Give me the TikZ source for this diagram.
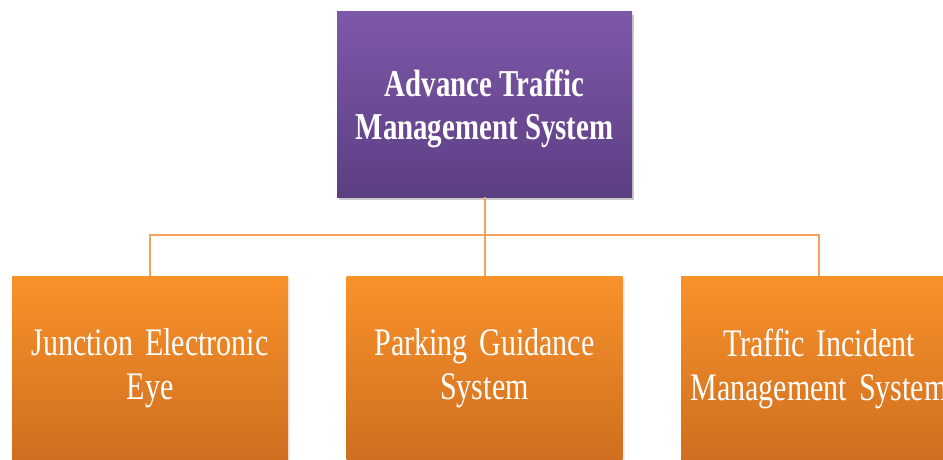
\documentclass[tikz,border=0pt]{standalone}
\usepackage{fontspec}
\setmainfont{Liberation Serif}
\newfontfamily\subfont[FakeStretch=0.77]{Liberation Serif}
\newfontfamily\headfont[FakeStretch=0.76]{Liberation Serif}
\newcommand\subtext{\subfont\fontsize{39}{44}\selectfont\spaceskip=0.3em plus 0pt\relax}
\newcommand\headtext{\headfont\bfseries\fontsize{38}{43}\selectfont}
\usetikzlibrary{shadows}

\definecolor{purpletop}{HTML}{7D58A8}
\definecolor{purplebot}{HTML}{5C3E83}
\definecolor{orangetop}{HTML}{F9922B}
\definecolor{orangebot}{HTML}{CF6E1F}
\definecolor{linkorange}{HTML}{F4A25E}

\tikzset{
  topbox/.style={minimum width=295pt, minimum height=185pt, inner sep=0pt,
    top color=purpletop, bottom color=purplebot, text=white, align=center,
    font=\headtext, text depth=0pt,
    drop shadow={shadow xshift=2pt, shadow yshift=-3pt, opacity=0.35, fill=black!60}},
  subbox/.style={minimum width=276pt, minimum height=185pt, inner sep=0pt,
    top color=orangetop, bottom color=orangebot, text=white, align=center,
    font=\subtext,
    drop shadow={shadow xshift=2pt, shadow yshift=-2pt, opacity=0.15, fill=black!50}},
  link/.style={linkorange, line width=2pt}
}

\begin{document}
\begin{tikzpicture}[x=1pt, y=1pt]
\useasboundingbox (0,0) rectangle (943,459);
\clip (0,0) rectangle (943,459);

\node[topbox] (atms) at (484.5,354.5) {Advance Traffic\\Management System};

\node[subbox] (jee) at (150,90.5) {Junction Electronic\\Eye};
\node[subbox] (pgs) at (484.5,90.5) {Parking Guidance\\System};
\node[subbox] (tims) at (819,90.5) {Traffic Incident\\Management System};

% branches
\foreach \n in {jee,pgs,tims}
  \draw[link] (atms.south) -- ++(0,-38) -| (\n.north);
\end{tikzpicture}
\end{document}
